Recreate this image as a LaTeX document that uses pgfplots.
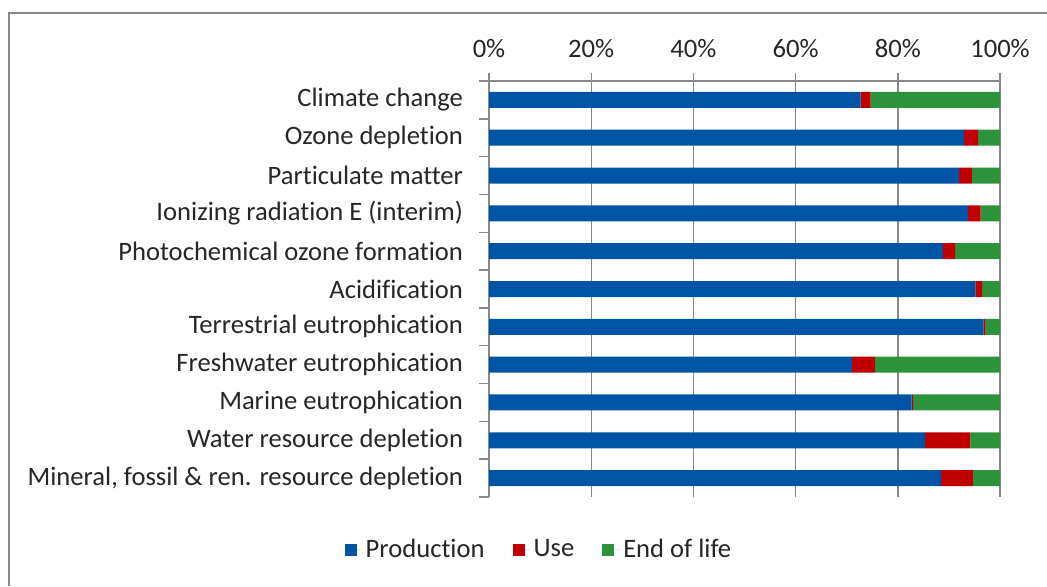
\documentclass[border=0pt]{standalone}
\usepackage{pgfplots}
\pgfplotsset{compat=1.18}
\usepackage{fontspec}
\setmainfont{Carlito}[Ligatures=NoCommon]

\definecolor{prodblue}{RGB}{0,84,166}
\definecolor{usered}{RGB}{192,0,0}
\definecolor{eolgreen}{RGB}{44,146,60}
\definecolor{gridgray}{RGB}{136,136,136}
\definecolor{txt}{RGB}{38,38,38}

% shares in percent, index 0 = bottom category
\pgfplotstableread{
idx prod use eol
10  72.7 2.0 25.3
9   93.0 2.7  4.3
8   92.0 2.5  5.5
7   93.7 2.5  3.8
6   88.8 2.4  8.8
5   95.2 1.3  3.5
4   96.8 0.4  2.8
3   71.0 4.5 24.5
2   82.7 0.3 17.0
1   85.3 8.9  5.8
0   88.5 6.2  5.3
}\impacts

\begin{document}
\begin{tikzpicture}
\useasboundingbox (0,0) rectangle (523.5pt,293pt);
\draw[gridgray, line width=1pt] (4.5pt,0) -- (4.5pt,286.5pt) -- (523.5pt,286.5pt);
\begin{axis}[
    at={(244.5pt,44.5pt)}, anchor=south west,
    scale only axis, width=255.5pt, height=208pt,
    xbar stacked, bar width=8pt,
    xmin=0, xmax=100, ymin=-0.5, ymax=10.5,
    axis x line*=top, axis y line*=left,
    axis line style={gridgray, line width=0.7pt},
    xmajorgrids, grid style={gridgray, line width=0.7pt},
    xtick={0,20,...,100},
    xticklabel={\pgfmathprintnumber{\tick}\%},
    /pgf/number format/assume math mode=true,
    xticklabel style={yshift=4pt},
    ytick={0,...,10},
    yticklabels={{Mineral, fossil \& ren. resource depletion},
        {Water resource depletion}, {Marine eutrophication},
        {Freshwater eutrophication}, {Terrestrial eutrophication},
        {Acidification}, {Photochemical ozone formation},
        {Ionizing radiation E (interim)}, {Particulate matter},
        {Ozone depletion}, {Climate change}},
    yticklabel style={xshift=-5.5pt},
    minor ytick={-0.5,0.5,...,10.5},
    tick align=outside,
    major tick length=4pt, minor tick length=5pt,
    major y tick style={draw=none},
    tick style={gridgray, line width=0.7pt},
    minor tick style={gridgray, line width=0.7pt},
    ticklabel style={font=\fontsize{13.3}{15}\selectfont, text=txt},
    legend columns=3,
    legend style={draw=none, at={(0.0998,-0.1268)}, anchor=center,
        font=\fontsize{13.3}{15}\selectfont, text=txt,
        /tikz/every even column/.append style={column sep=12pt}},
    legend image code/.code={\fill[#1] (0pt,-3pt) rectangle (6pt,3pt);
        \path (0pt,0pt) -- (8.5pt,0pt);},
]
\addplot[fill=prodblue, draw=none] table[x=prod, y=idx] {\impacts};
\addplot[fill=usered, draw=none] table[x=use, y=idx] {\impacts};
\addplot[fill=eolgreen, draw=none] table[x=eol, y=idx] {\impacts};
\legend{Production, Use, End of life}
\end{axis}
\end{tikzpicture}
\end{document}
